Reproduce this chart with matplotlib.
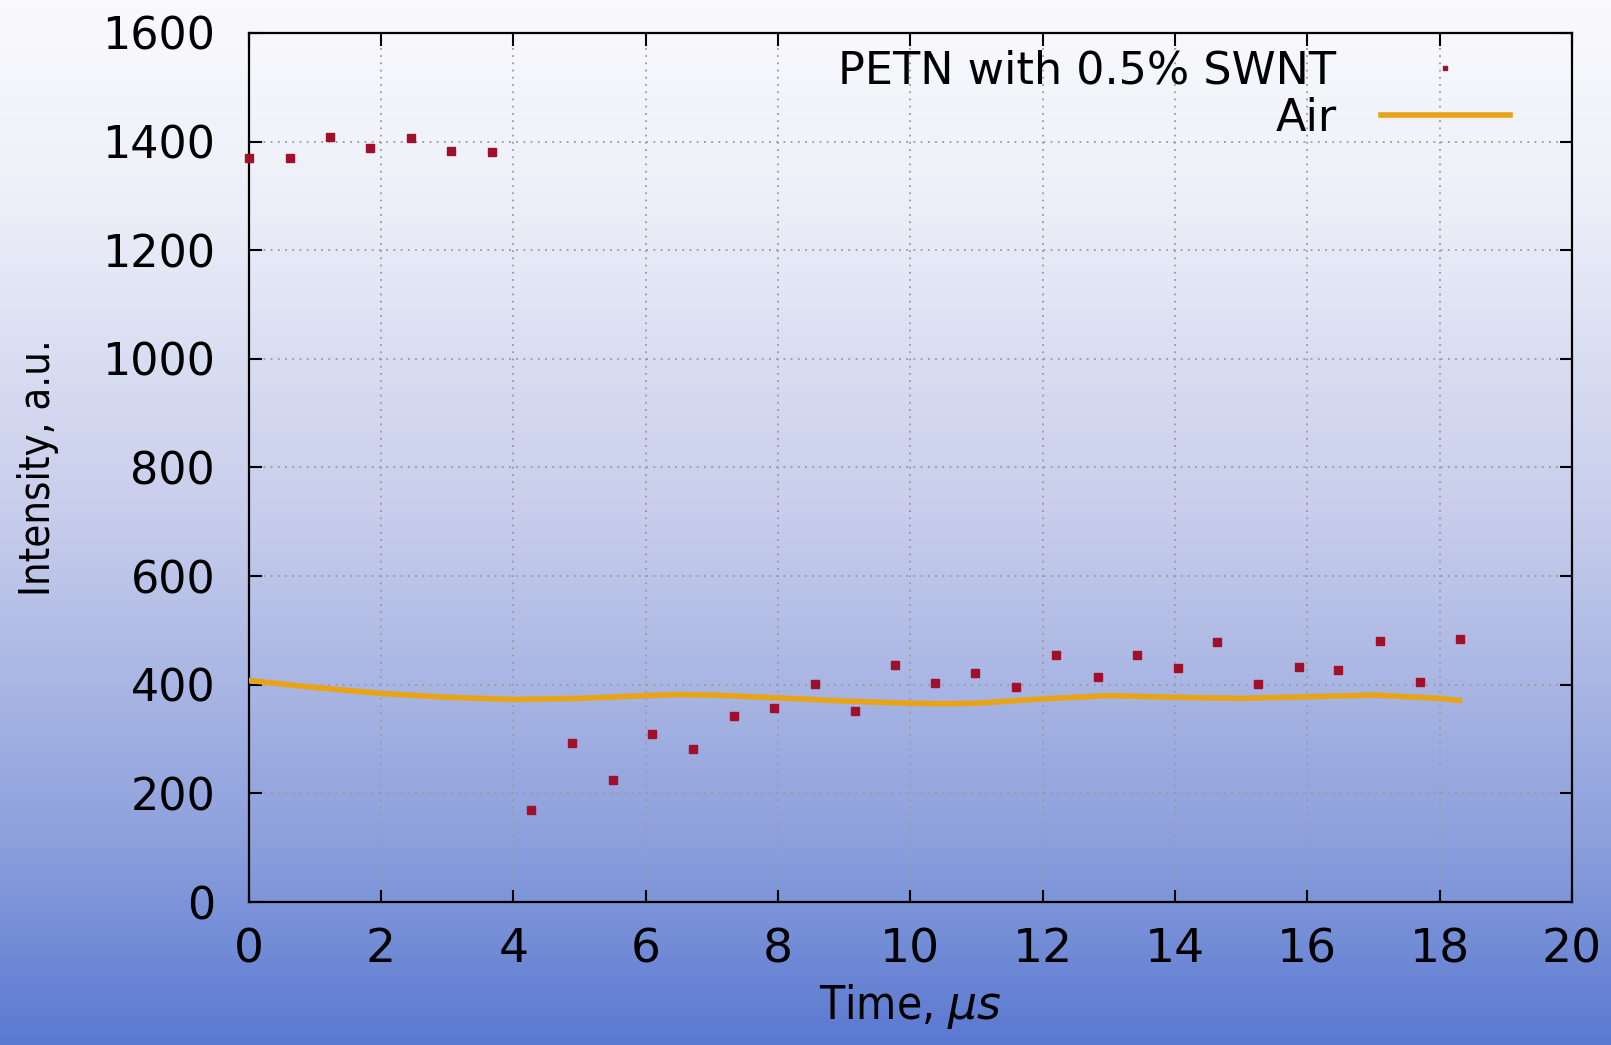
import numpy as np
import matplotlib
matplotlib.use("Agg")
import matplotlib.pyplot as plt
from matplotlib.colors import LinearSegmentedColormap

# data
petn_t = [0.0, 0.62, 1.23, 1.83, 2.45, 3.06, 3.68, 4.27, 4.89, 5.5, 6.1,
          6.72, 7.33, 7.94, 8.56, 9.16, 9.77, 10.37, 10.98, 11.6, 12.2,
          12.83, 13.43, 14.04, 14.64, 15.26, 15.87, 16.47, 17.1, 17.7, 18.31]
petn_i = [1370, 1370, 1409, 1388, 1407, 1382, 1380, 170, 292, 224, 309,
          281, 343, 358, 402, 351, 436, 404, 422, 395, 454,
          414, 455, 430, 478, 402, 433, 427, 480, 406, 484]

air_t = [0, 1, 2, 3, 4, 5, 6, 6.5, 7, 8, 9, 10, 10.5, 11, 12, 13, 14, 15,
         16, 17, 18, 18.3]
air_i = [408, 395, 384, 377, 373, 375, 380, 382, 381, 376, 370, 366, 365,
         366, 374, 380, 377, 375, 378, 381, 375, 371]

x_ticks = list(range(0, 21, 2))
y_ticks = list(range(0, 1601, 200))

red = "#a0102a"
orange = "#e8a416"
plt.rcParams["mathtext.fontset"] = "dejavusans"

fig = plt.figure(figsize=(16.11, 10.45), dpi=100)

# gradient background
bg = fig.add_axes([0, 0, 1, 1], zorder=-10)
cmap = LinearSegmentedColormap.from_list(
    "bg", [(0, "#fafafd"), (0.18, "#eef0f9"), (0.5, "#c6cceb"),
           (0.8, "#8ea1dd"), (1, "#5a79d1")])
bg.imshow(np.linspace(0, 1, 256).reshape(-1, 1), aspect="auto", cmap=cmap,
          extent=[0, 1, 0, 1])
bg.axis("off")

ax = fig.add_axes([0.1543, 0.1368, 0.8215, 0.8317])
ax.patch.set_alpha(0)

ax.plot(air_t, air_i, color=orange, lw=4.0, zorder=3)
ax.plot(petn_t, petn_i, ls="none", marker="s", ms=6.0, color=red, zorder=4,
        clip_on=False)

ax.set_xlim(0, 20)
ax.set_ylim(0, 1600)
ax.set_xticks(x_ticks)
ax.set_yticks(y_ticks)
ax.grid(True, color="#9a9a9a", ls=(0, (1, 3)), lw=1.3)
ax.tick_params(direction="in", length=9, width=1.5, top=True, right=True,
               colors="black")
ax.tick_params(axis="x", labelsize=34, pad=18)
ax.tick_params(axis="y", labelsize=32, pad=24)
for s in ax.spines.values():
    s.set_linewidth(1.6)

ax.set_xlabel("Time, $\\mu s$", fontsize=33, labelpad=7, fontstretch="condensed")
ax.set_ylabel("Intensity, a.u.", fontsize=30, fontstretch="condensed")
ax.yaxis.set_label_coords(-0.143, 0.5)

# gnuplot-like key: label right-justified, sample on the right
h_petn, = ax.plot([], [], ls="none", marker="s", ms=3.5, color=red)
h_air, = ax.plot([], [], color=orange, lw=4.0)
leg1 = ax.legend([h_petn], ["PETN with 0.5% SWNT"], loc="center right",
                 bbox_to_anchor=(0.953, 0.956), markerfirst=False,
                 frameon=False, fontsize=32, handlelength=2.9,
                 handletextpad=1.0, borderpad=0, borderaxespad=0)
ax.add_artist(leg1)
ax.legend([h_air], ["Air"], loc="center right",
          bbox_to_anchor=(0.953, 0.902), markerfirst=False, frameon=False,
          fontsize=32, handlelength=2.9, handletextpad=1.0, borderpad=0,
          borderaxespad=0)

fig.savefig("out.png", dpi=100)
